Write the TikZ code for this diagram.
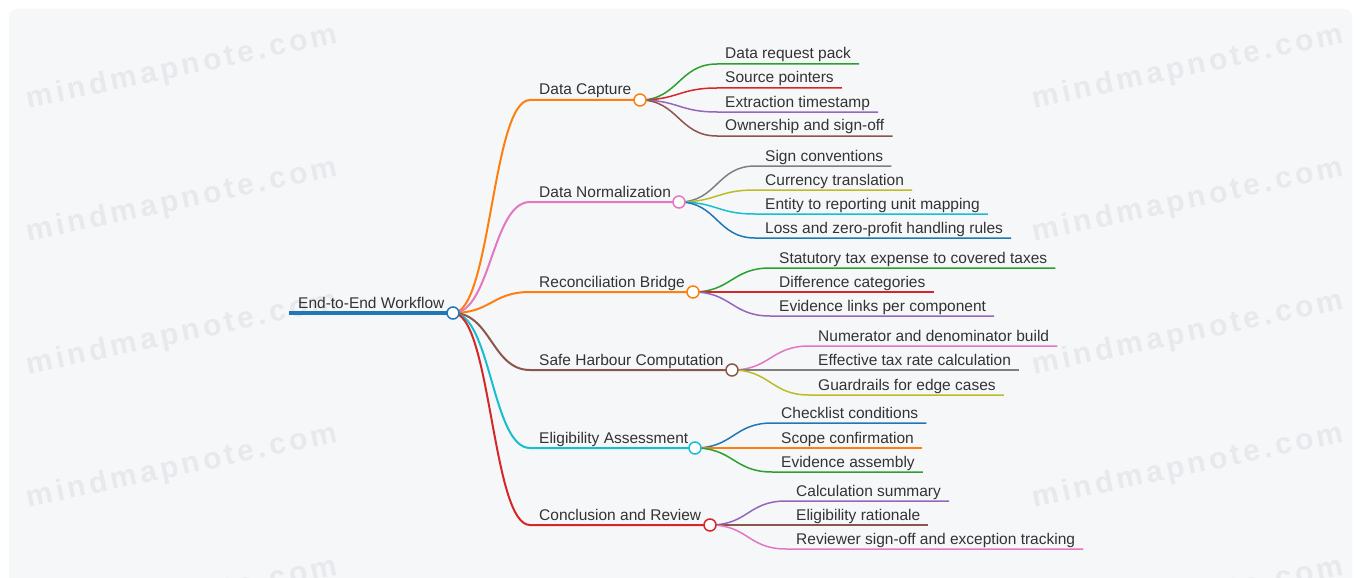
\documentclass[tikz,border=0pt]{standalone}
\usepackage{fontspec}
\setmainfont{Liberation Sans}
\newfontfamily\stampfont{Liberation Sans}[LetterSpace=12]
\usepackage{xcolor}
\usepackage{tikz}

\definecolor{ink}{HTML}{333333}
\definecolor{paper}{HTML}{F6F7F9}
\definecolor{stamp}{HTML}{E8E9EC}
\definecolor{cblue}{HTML}{1F77B4}
\definecolor{corange}{HTML}{FF7F0E}
\definecolor{cgreen}{HTML}{2CA02C}
\definecolor{cred}{HTML}{D62728}
\definecolor{cpurple}{HTML}{9467BD}
\definecolor{cbrown}{HTML}{8C564B}
\definecolor{cpink}{HTML}{E377C2}
\definecolor{cgray}{HTML}{7F7F7F}
\definecolor{colive}{HTML}{BCBD22}
\definecolor{ccyan}{HTML}{17BECF}

\tikzset{
  lbl/.style={anchor=base west,inner sep=0pt,text=ink,font=\fontsize{15.5}{18}\selectfont},
  dot/.style={circle,draw=#1,fill=white,line width=1.5pt,minimum size=12pt,inner sep=0pt},
  lvl/.style={#1,line width=2pt},
  leaf/.style={#1,line width=1.5pt},
  wmark/.style={text=stamp,rotate=12,inner sep=0pt,font=\stampfont\bfseries\fontsize{30}{30}\selectfont}
}

\begin{document}
\begin{tikzpicture}[x=1pt,y=-1pt]
\useasboundingbox (0,0) rectangle (1361,578);
\fill[white] (0,0) rectangle (1361,578);
\fill[paper,rounded corners=8pt] (9,9) rectangle (1352,592);

% watermark
\node[wmark] (wl1) at (182,68) {mindmapnote.com};
\node[wmark] (wl2) at (182,201) {mindmapnote.com};
\node[wmark] (wl3) at (182,334) {mindmapnote.com};
\node[wmark] (wl4) at (182,467) {mindmapnote.com};
\node[wmark] (wl5) at (182,600) {mindmapnote.com};
\node[wmark] (wr1) at (1188,68) {mindmapnote.com};
\node[wmark] (wr2) at (1188,201) {mindmapnote.com};
\node[wmark] (wr3) at (1188,334) {mindmapnote.com};
\node[wmark] (wr4) at (1188,467) {mindmapnote.com};
\node[wmark] (wr5) at (1188,600) {mindmapnote.com};

% root
\coordinate (rootl) at (289,313);
\coordinate (rootc) at (453,313);
\node[lbl] (root) at (298,308) {End-to-End Workflow};
\draw[cblue,line width=4.5pt] (rootl) -- (rootc);

% first level
\coordinate (capl) at (530,100); \coordinate (capc) at (640,100);
\coordinate (norl) at (530,202); \coordinate (norc) at (679,202);
\coordinate (recl) at (530,292); \coordinate (recc) at (693,292);
\coordinate (safl) at (530,370); \coordinate (safc) at (732,370);
\coordinate (elil) at (530,448); \coordinate (elic) at (695,448);
\coordinate (conl) at (530,525); \coordinate (conc) at (710,525);
\node[lbl] (cap) at (539,95) {Data Capture};
\node[lbl] (nor) at (539,197) {Data Normalization};
\node[lbl] (rec) at (539,287) {Reconciliation Bridge};
\node[lbl] (saf) at (539,365) {Safe Harbour Computation};
\node[lbl] (eli) at (539,443) {Eligibility Assessment};
\node[lbl] (con) at (539,520) {Conclusion and Review};
\draw[lvl=corange] (rootc) .. controls +(38,0) and +(-38,0) .. (capl) -- (capc);
\draw[lvl=cpink] (rootc) .. controls +(38,0) and +(-38,0) .. (norl) -- (norc);
\draw[lvl=corange] (rootc) .. controls +(38,0) and +(-38,0) .. (recl) -- (recc);
\draw[lvl=cbrown] (rootc) .. controls +(38,0) and +(-38,0) .. (safl) -- (safc);
\draw[lvl=ccyan] (rootc) .. controls +(38,0) and +(-38,0) .. (elil) -- (elic);
\draw[lvl=cred] (rootc) .. controls +(38,0) and +(-38,0) .. (conl) -- (conc);

% Data Capture
\coordinate (cap1) at (717,64); \node[lbl] (cap1t) at (725,59) {Data request pack};
\coordinate (cap2) at (717,88); \node[lbl] (cap2t) at (725,83) {Source pointers};
\coordinate (cap3) at (717,112); \node[lbl] (cap3t) at (725,107) {Extraction timestamp};
\coordinate (cap4) at (717,136); \node[lbl] (cap4t) at (725,131) {Ownership and sign-off};
\draw[leaf=cgreen] (capc) .. controls +(38,0) and +(-38,0) .. (cap1) -- ([xshift=8pt]cap1 -| cap1t.east);
\draw[leaf=cred] (capc) .. controls +(38,0) and +(-38,0) .. (cap2) -- ([xshift=8pt]cap2 -| cap2t.east);
\draw[leaf=cpurple] (capc) .. controls +(38,0) and +(-38,0) .. (cap3) -- ([xshift=8pt]cap3 -| cap3t.east);
\draw[leaf=cbrown] (capc) .. controls +(38,0) and +(-38,0) .. (cap4) -- ([xshift=8pt]cap4 -| cap4t.east);

% Data Normalization
\coordinate (nor1) at (755,166); \node[lbl] (nor1t) at (765,161) {Sign conventions};
\coordinate (nor2) at (755,190); \node[lbl] (nor2t) at (765,185) {Currency translation};
\coordinate (nor3) at (755,214); \node[lbl] (nor3t) at (765,209) {Entity to reporting unit mapping};
\coordinate (nor4) at (755,238); \node[lbl] (nor4t) at (765,233) {Loss and zero-profit handling rules};
\draw[leaf=cgray] (norc) .. controls +(38,0) and +(-38,0) .. (nor1) -- ([xshift=8pt]nor1 -| nor1t.east);
\draw[leaf=colive] (norc) .. controls +(38,0) and +(-38,0) .. (nor2) -- ([xshift=8pt]nor2 -| nor2t.east);
\draw[leaf=ccyan] (norc) .. controls +(38,0) and +(-38,0) .. (nor3) -- ([xshift=8pt]nor3 -| nor3t.east);
\draw[leaf=cblue] (norc) .. controls +(38,0) and +(-38,0) .. (nor4) -- ([xshift=8pt]nor4 -| nor4t.east);

% Reconciliation Bridge
\coordinate (rec1) at (770,268); \node[lbl] (rec1t) at (779,263) {Statutory tax expense to covered taxes};
\coordinate (rec2) at (770,292); \node[lbl] (rec2t) at (779,287) {Difference categories};
\coordinate (rec3) at (770,316); \node[lbl] (rec3t) at (779,311) {Evidence links per component};
\draw[leaf=cgreen] (recc) .. controls +(38,0) and +(-38,0) .. (rec1) -- ([xshift=8pt]rec1 -| rec1t.east);
\draw[leaf=cred] (recc) -- (rec2) -- ([xshift=8pt]rec2 -| rec2t.east);
\draw[leaf=cpurple] (recc) .. controls +(38,0) and +(-38,0) .. (rec3) -- ([xshift=8pt]rec3 -| rec3t.east);

% Safe Harbour Computation
\coordinate (saf1) at (809,346); \node[lbl] (saf1t) at (818,341) {Numerator and denominator build};
\coordinate (saf2) at (809,370); \node[lbl] (saf2t) at (818,365) {Effective tax rate calculation};
\coordinate (saf3) at (809,395); \node[lbl] (saf3t) at (818,390) {Guardrails for edge cases};
\draw[leaf=cpink] (safc) .. controls +(38,0) and +(-38,0) .. (saf1) -- ([xshift=8pt]saf1 -| saf1t.east);
\draw[leaf=cgray] (safc) -- (saf2) -- ([xshift=8pt]saf2 -| saf2t.east);
\draw[leaf=colive] (safc) .. controls +(38,0) and +(-38,0) .. (saf3) -- ([xshift=8pt]saf3 -| saf3t.east);

% Eligibility Assessment
\coordinate (eli1) at (772,423); \node[lbl] (eli1t) at (781,418) {Checklist conditions};
\coordinate (eli2) at (772,448); \node[lbl] (eli2t) at (781,443) {Scope confirmation};
\coordinate (eli3) at (772,472); \node[lbl] (eli3t) at (781,467) {Evidence assembly};
\draw[leaf=cblue] (elic) .. controls +(38,0) and +(-38,0) .. (eli1) -- ([xshift=8pt]eli1 -| eli1t.east);
\draw[leaf=corange] (elic) -- (eli2) -- ([xshift=8pt]eli2 -| eli2t.east);
\draw[leaf=cgreen] (elic) .. controls +(38,0) and +(-38,0) .. (eli3) -- ([xshift=8pt]eli3 -| eli3t.east);

% Conclusion and Review
\coordinate (con1) at (786,501); \node[lbl] (con1t) at (796,496) {Calculation summary};
\coordinate (con2) at (786,525); \node[lbl] (con2t) at (796,520) {Eligibility rationale};
\coordinate (con3) at (786,549); \node[lbl] (con3t) at (796,544) {Reviewer sign-off and exception tracking};
\draw[leaf=cpurple] (conc) .. controls +(38,0) and +(-38,0) .. (con1) -- ([xshift=8pt]con1 -| con1t.east);
\draw[leaf=cbrown] (conc) -- (con2) -- ([xshift=8pt]con2 -| con2t.east);
\draw[leaf=cpink] (conc) .. controls +(38,0) and +(-38,0) .. (con3) -- ([xshift=8pt]con3 -| con3t.east);

% dots on top
\node[dot=cblue] (rootdot) at (rootc) {};
\node[dot=corange] (capdot) at (capc) {};
\node[dot=cpink] (nordot) at (norc) {};
\node[dot=corange] (recdot) at (recc) {};
\node[dot=cbrown] (safdot) at (safc) {};
\node[dot=ccyan] (elidot) at (elic) {};
\node[dot=cred] (condot) at (conc) {};
\end{tikzpicture}
\end{document}
